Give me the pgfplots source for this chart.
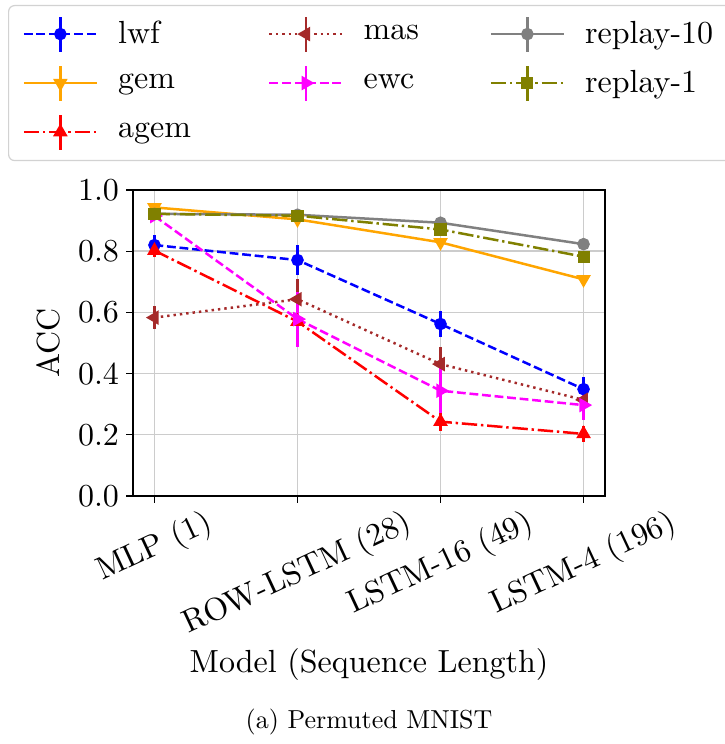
\documentclass[border=0pt]{standalone}
\usepackage{graphicx}
\usepackage{pgfplots}
\pgfplotsset{compat=1.18}
% Latin Modern at its 10pt design size, scaled freely
\DeclareFontFamily{TU}{lmten}{}
\DeclareFontShape{TU}{lmten}{m}{n}{<-> \UnicodeFontFile{lmroman10-regular}{\UnicodeFontTeXLigatures}}{}
\definecolor{mplblue}{RGB}{0,0,255}
\definecolor{mplred}{RGB}{255,0,0}
\definecolor{mplmagenta}{RGB}{255,0,255}
\definecolor{mplorange}{RGB}{255,165,0}
\definecolor{mplbrown}{RGB}{165,42,42}
\definecolor{mplolive}{RGB}{128,128,0}
\definecolor{mplgray}{RGB}{128,128,128}
\newcommand{\bigf}{\fontfamily{lmten}\fontsize{16}{19}\selectfont}
\newcommand{\capf}{\fontfamily{lmten}\fontsize{13}{15.6}\selectfont}
\newcommand{\rl}[1]{\rotatebox{25}{#1}}
\tikzset{
  mdash/.style={dash pattern=on 4.4pt off 1.9pt},
  mdashdot/.style={dash pattern=on 7.7pt off 1.9pt on 1.2pt off 1.9pt},
  mdot/.style={dash pattern=on 1.2pt off 2pt},
  s lwf/.style={color=mplblue, mdash, mark=*, mark size=2.5pt, mark options={solid}},
  s gem/.style={color=mplorange, solid, mark=triangle*, mark size=3pt, mark options={solid,rotate=180}},
  s agem/.style={color=mplred, mdashdot, mark=triangle*, mark size=3pt, mark options={solid}},
  s mas/.style={color=mplbrown, mdot, mark=triangle*, mark size=3pt, mark options={solid,rotate=90}},
  s ewc/.style={color=mplmagenta, mdash, mark=triangle*, mark size=3pt, mark options={solid,rotate=-90}},
  s r10/.style={color=mplgray, solid, mark=*, mark size=2.5pt, mark options={solid}},
  s r1/.style={color=mplolive, mdashdot, mark=square*, mark size=2.4pt, mark options={solid}},
}
\begin{document}
\begin{tikzpicture}
\begin{axis}[
  scale only axis, width=236pt, height=153pt,
  xmin=-0.15, xmax=3.15, ymin=0, ymax=1,
  xtick={0,1,2,3},
  xticklabels={\rl{MLP (1)}, \rl{ROW-LSTM (28)}, \rl{LSTM-16 (49)}, \rl{LSTM-4 (196)}},
  ytick={0,0.2,0.4,0.6,0.8,1},
  yticklabel style={/pgf/number format/.cd, fixed, fixed zerofill, precision=1, assume math mode=true},
  xticklabel style={anchor=north, inner sep=0pt, yshift=-2pt},
  tick label style={font=\bigf},
  label style={font=\bigf},
  xlabel={Model (Sequence Length)},
  ylabel={ACC},
  xlabel style={at={(axis description cs:0.5,-0.552)}, anchor=center},
  ylabel style={at={(axis description cs:-0.18,0.5)}, anchor=center},
  tick align=outside, tick pos=left, major tick length=3.5pt,
  axis line style={line width=0.6pt}, every tick/.style={black, line width=0.6pt},
  xmajorgrids, ymajorgrids, grid style={gray!40, line width=0.7pt},
  every axis plot/.append style={line width=1.25pt},
  error bars/y dir=both, error bars/y explicit,
  error bars/error mark=none,
  error bars/error bar style={solid, line width=1.25pt},
  legend columns=3,
  legend cell align=left,
  legend image code/.code={
    \draw[#1,solid,mark=none] (18.25pt,-8.75pt) -- (18.25pt,8.75pt);
    \draw[mark repeat=2,mark phase=2,#1] plot coordinates {(0pt,0pt)(18.25pt,0pt)(36.5pt,0pt)};
  },
  legend style={at={(axis description cs:-0.2648,1.6046)}, anchor=north west,
    draw=gray!35, line width=0.6pt, rounded corners=3pt, fill=white,
    inner xsep=7pt, inner ysep=2pt, font=\bigf,
    nodes={inner sep=0pt, minimum height=24.5pt},
    /tikz/every odd column/.append style={column sep=10pt},
    /tikz/every even column/.append style={column sep=0pt}},
]
\addplot[s lwf, forget plot] coordinates {(0,0.820) +- (0,0.033) (1,0.771) +- (0,0.049) (2,0.562) +- (0,0.042) (3,0.349) +- (0,0.040)};
\addplot[s gem, forget plot] coordinates {(0,0.943) +- (0,0.008) (1,0.904) +- (0,0.008) (2,0.829) +- (0,0.008) (3,0.708) +- (0,0.008)};
\addplot[s agem, forget plot] coordinates {(0,0.802) +- (0,0.020) (1,0.570) +- (0,0.015) (2,0.243) +- (0,0.030) (3,0.203) +- (0,0.026)};
\addplot[s mas, forget plot] coordinates {(0,0.583) +- (0,0.038) (1,0.643) +- (0,0.065) (2,0.431) +- (0,0.057) (3,0.314) +- (0,0.012)};
\addplot[s ewc, forget plot] coordinates {(0,0.915) +- (0,0.010) (1,0.578) +- (0,0.090) (2,0.344) +- (0,0.074) (3,0.297) +- (0,0.050)};
\addplot[s r10, forget plot] coordinates {(0,0.922) +- (0,0.005) (1,0.919) +- (0,0.005) (2,0.893) +- (0,0.006) (3,0.823) +- (0,0.006)};
\addplot[s r1, forget plot] coordinates {(0,0.922) +- (0,0.006) (1,0.916) +- (0,0.006) (2,0.871) +- (0,0.010) (3,0.782) +- (0,0.008)};
\addlegendimage{s lwf}\addlegendentry{\makebox[75pt][l]{lwf}}
\addlegendimage{s mas}\addlegendentry{\makebox[63pt][l]{mas}}
\addlegendimage{s r10}\addlegendentry{\makebox[66pt][l]{replay-10}}
\addlegendimage{s gem}\addlegendentry{\makebox[75pt][l]{gem}}
\addlegendimage{s ewc}\addlegendentry{\makebox[63pt][l]{ewc}}
\addlegendimage{s r1}\addlegendentry{\makebox[66pt][l]{replay-1}}
\addlegendimage{s agem}\addlegendentry{\makebox[75pt][l]{agem}}
\coordinate (bbll) at (axis description cs:-0.2818,-0.8105);
\coordinate (bbur) at (axis description cs:1.2542,1.6209);
\coordinate (cap) at (axis description cs:0.5,-0.739);
\end{axis}
\node[font=\capf] at (cap) {(a) Permuted MNIST};
\pgfresetboundingbox
\path[use as bounding box] (bbll) rectangle (bbur);
\end{tikzpicture}
\end{document}
